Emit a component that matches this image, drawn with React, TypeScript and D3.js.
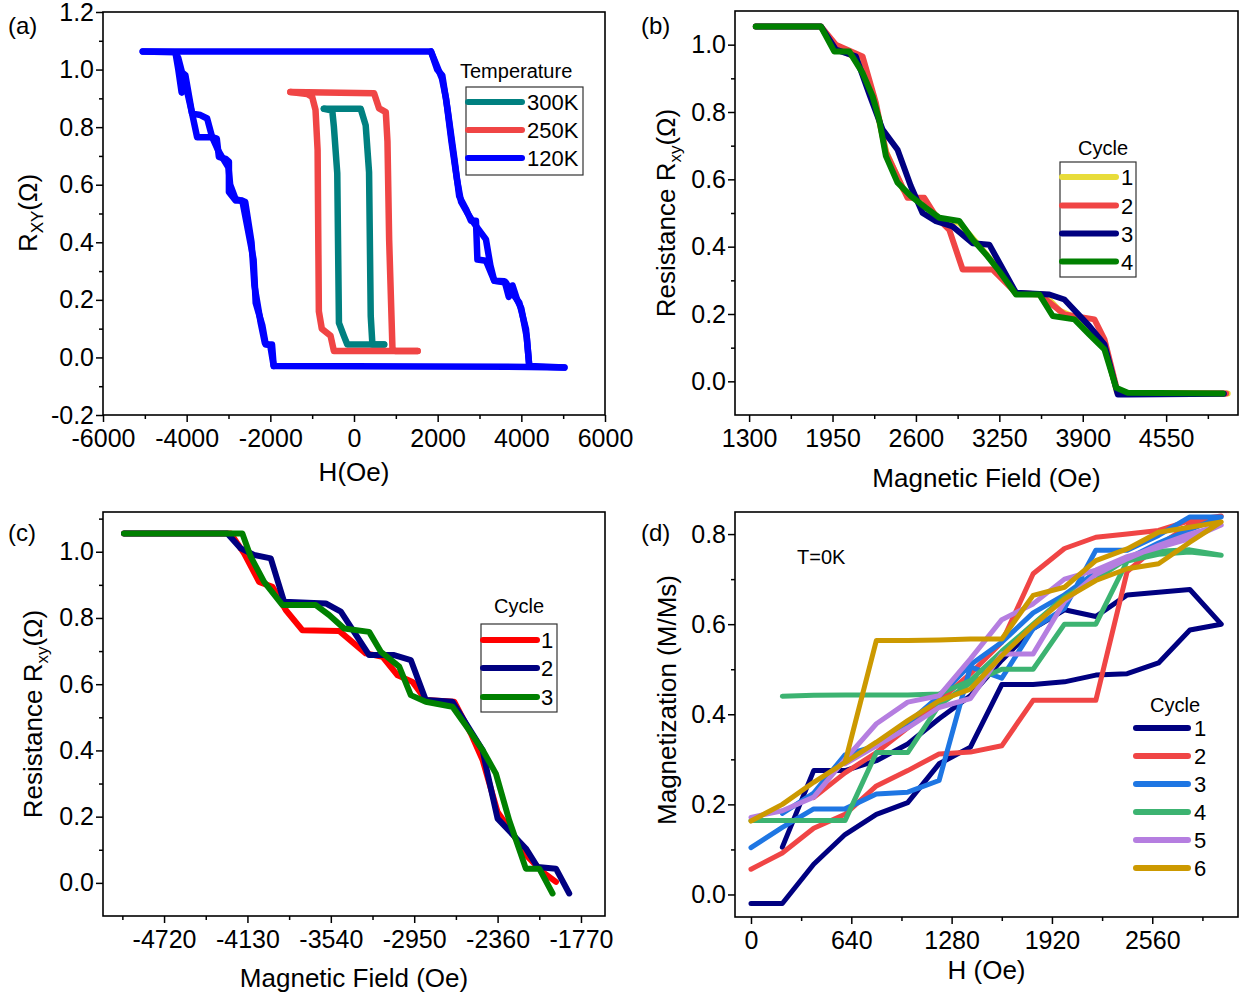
import React, { useEffect, useRef } from 'react';
import * as d3 from 'd3';

type Pt = [number, number];

// ---------- data: (a) R_XY vs H at three temperatures ----------
const temperatures = ['300K', '250K', '120K'];

const r300Desc: Pt[] = [[720, 0.045], [440, 0.045], [-160, 0.045], [-240, 0.074], [-360, 0.12], [-400, 0.64], [-480, 0.8], [-520, 0.858], [-720, 0.864]];
const r300Asc: Pt[] = [[-720, 0.864], [160, 0.864], [280, 0.806], [360, 0.643], [400, 0.144], [440, 0.045], [720, 0.045]];

const r250Desc: Pt[] = [[1520, 0.022], [1000, 0.022], [-480, 0.022], [-560, 0.075], [-770, 0.1], [-840, 0.16], [-870, 0.72], [-920, 0.86], [-1000, 0.905], [-1120, 0.915], [-1520, 0.922]];
const r250Asc: Pt[] = [[-1520, 0.922], [480, 0.918], [600, 0.865], [760, 0.852], [800, 0.75], [840, 0.41], [920, 0.028], [1000, 0.022], [1520, 0.022]];

const r120Desc: Pt[] = [[5030, -0.035], [4200, -0.033], [-1920, -0.03], [-1960, 0.045], [-2110, 0.045], [-2190, 0.11], [-2350, 0.19], [-2400, 0.34], [-2670, 0.545], [-2830, 0.545], [-2990, 0.575], [-2990, 0.68], [-3070, 0.69], [-3230, 0.697], [-3280, 0.76], [-3390, 0.765], [-3750, 0.765], [-3870, 0.847], [-4030, 0.98], [-4110, 0.99], [-4200, 1.04], [-4270, 1.06], [-5050, 1.063]];
const r120Desc2: Pt[] = [[-1920, -0.03], [-2000, 0.04], [-2130, 0.05], [-2230, 0.12], [-2380, 0.25], [-2450, 0.4], [-2600, 0.54], [-2830, 0.55], [-2960, 0.6], [-3000, 0.66], [-3150, 0.695], [-3250, 0.72], [-3390, 0.765], [-3510, 0.83], [-3670, 0.842], [-3870, 0.847], [-4060, 0.97], [-4120, 0.92], [-4200, 1.0], [-4270, 1.06]];
const r120Asc: Pt[] = [[-5050, 1.063], [-4270, 1.063], [1840, 1.063], [1990, 1.0], [2110, 0.98], [2235, 0.864], [2400, 0.69], [2515, 0.56], [2675, 0.516], [2795, 0.475], [2915, 0.475], [2950, 0.34], [3154, 0.336], [3353, 0.266], [3633, 0.26], [3753, 0.23], [3952, 0.19], [4112, 0.098], [4190, -0.03], [5030, -0.035]];
const r120Asc2: Pt[] = [[1840, 1.063], [1960, 1.02], [2100, 0.97], [2200, 0.9], [2330, 0.75], [2460, 0.62], [2560, 0.54], [2720, 0.5], [2850, 0.47], [2950, 0.45], [3154, 0.41], [3260, 0.32], [3353, 0.266], [3600, 0.265], [3700, 0.21], [3790, 0.25], [3900, 0.2], [4000, 0.17], [4130, 0.07], [4190, -0.03]];

const fieldTicksA = [-6000, -4000, -2000, 0, 2000, 4000, 6000];
const rxyTicksA = [-0.2, 0, 0.2, 0.4, 0.6, 0.8, 1.0, 1.2];

// ---------- data: (b) positive field sweeps, 4 cycles ----------
const cyclesB = ['1', '2', '3', '4'];
const cycle1B: Pt[] = [[1352, 1.054], [1859, 1.054], [1970, 0.99], [2150, 0.96], [2290, 0.81], [2370, 0.68], [2500, 0.57], [2650, 0.53], [2780, 0.485], [2940, 0.47], [3100, 0.4], [3250, 0.33], [3380, 0.26], [3600, 0.258], [3720, 0.21], [3900, 0.18], [4069, 0.11], [4165, -0.03], [4251, -0.036], [5030, -0.036]];
const cycle2B: Pt[] = [[1352, 1.054], [1859, 1.054], [1976, 1.0], [2184, 0.965], [2288, 0.827], [2366, 0.68], [2535, 0.545], [2665, 0.545], [2756, 0.49], [2860, 0.45], [2964, 0.332], [3198, 0.332], [3380, 0.263], [3562, 0.258], [3757, 0.199], [3991, 0.184], [4069, 0.125], [4173, -0.034], [4251, -0.035], [5018, -0.036]];
const cycle3B: Pt[] = [[1352, 1.054], [1859, 1.054], [1976, 0.985], [2132, 0.965], [2240, 0.85], [2340, 0.748], [2457, 0.688], [2560, 0.58], [2652, 0.5], [2756, 0.476], [2886, 0.46], [3042, 0.41], [3172, 0.406], [3380, 0.263], [3640, 0.258], [3757, 0.243], [3952, 0.164], [4069, 0.11], [4173, -0.039], [4251, -0.039], [5000, -0.037]];
const cycle4B: Pt[] = [[1352, 1.054], [1859, 1.054], [1963, 0.98], [2080, 0.98], [2184, 0.916], [2262, 0.847], [2314, 0.777], [2366, 0.669], [2457, 0.59], [2561, 0.55], [2678, 0.515], [2782, 0.486], [2938, 0.476], [3042, 0.421], [3146, 0.377], [3250, 0.327], [3380, 0.258], [3562, 0.258], [3666, 0.194], [3835, 0.184], [3952, 0.139], [4069, 0.095], [4160, -0.019], [4251, -0.034], [4992, -0.036]];

const fieldTicksB = [1300, 1950, 2600, 3250, 3900, 4550];
const rxyTicksB = [0, 0.2, 0.4, 0.6, 0.8, 1.0];

// ---------- data: (c) negative field sweeps, 3 cycles ----------
const cyclesC = ['1', '2', '3'];
const cycle1C: Pt[] = [[-5003, 1.055], [-4248, 1.055], [-4154, 0.995], [-4048, 0.909], [-3953, 0.894], [-3859, 0.824], [-3741, 0.763], [-3481, 0.761], [-3293, 0.693], [-3175, 0.683], [-3068, 0.627], [-2962, 0.607], [-2868, 0.552], [-2667, 0.547], [-2549, 0.451], [-2466, 0.371], [-2360, 0.214], [-2254, 0.149], [-2148, 0.079], [-2042, 0.033], [-1947, 0.003]];
const cycle2C: Pt[] = [[-5003, 1.055], [-4272, 1.055], [-4177, 1.01], [-4083, 0.99], [-3965, 0.98], [-3871, 0.849], [-3576, 0.844], [-3469, 0.819], [-3269, 0.688], [-3092, 0.688], [-2974, 0.673], [-2868, 0.552], [-2679, 0.547], [-2466, 0.401], [-2431, 0.33], [-2360, 0.194], [-2160, 0.104], [-2077, 0.048], [-1947, 0.043], [-1853, -0.032]];
const cycle3C: Pt[] = [[-5003, 1.055], [-4166, 1.055], [-4107, 0.985], [-4012, 0.909], [-3882, 0.839], [-3646, 0.839], [-3552, 0.809], [-3446, 0.768], [-3269, 0.758], [-3186, 0.698], [-3056, 0.653], [-2974, 0.567], [-2868, 0.547], [-2679, 0.532], [-2561, 0.461], [-2466, 0.401], [-2372, 0.33], [-2278, 0.189], [-2160, 0.043], [-2065, 0.043], [-1971, -0.032]];

const fieldTicksC = [-4720, -4130, -3540, -2950, -2360, -1770];
const rxyTicksC = [0, 0.2, 0.4, 0.6, 0.8, 1.0];

// ---------- data: (d) simulated M/Ms at T=0K, 6 cycles ----------
const cyclesD = ['1', '2', '3', '4', '5', '6'];
const cycle1D: Pt[] = [[200, 0.105], [400, 0.275], [600, 0.275], [800, 0.297], [1000, 0.334], [1200, 0.39], [1400, 0.441], [1600, 0.52], [1800, 0.59], [2000, 0.632], [2200, 0.617], [2400, 0.665], [2600, 0.671], [2800, 0.677], [3000, 0.6], [2800, 0.587], [2600, 0.514], [2400, 0.49], [2200, 0.487], [2000, 0.472], [1800, 0.466], [1600, 0.466], [1400, 0.327], [1200, 0.29], [1000, 0.204], [800, 0.178], [600, 0.133], [400, 0.067], [200, -0.02], [0, -0.02]];
const cycle2D: Pt[] = [[0, 0.056], [200, 0.092], [400, 0.147], [600, 0.178], [800, 0.241], [1000, 0.275], [1200, 0.312], [1400, 0.316], [1600, 0.33], [1800, 0.431], [2000, 0.431], [2200, 0.431], [2400, 0.717], [2600, 0.775], [2800, 0.82], [3000, 0.84], [2800, 0.83], [2600, 0.808], [2400, 0.8], [2200, 0.793], [2000, 0.768], [1800, 0.712], [1600, 0.56], [1400, 0.49], [1200, 0.43], [1000, 0.37], [800, 0.315], [600, 0.27], [400, 0.215]];
const cycle3D: Pt[] = [[0, 0.104], [200, 0.149], [400, 0.19], [600, 0.19], [800, 0.223], [1000, 0.227], [1200, 0.253], [1400, 0.505], [1600, 0.48], [1800, 0.59], [2000, 0.635], [2200, 0.764], [2400, 0.764], [2600, 0.797], [2800, 0.838], [3000, 0.838], [2800, 0.81], [2600, 0.78], [2400, 0.745], [2200, 0.715], [2000, 0.665], [1800, 0.625], [1600, 0.56], [1400, 0.51], [1200, 0.44], [1000, 0.38], [800, 0.33], [600, 0.31], [400, 0.225], [200, 0.18]];
const cycle4D: Pt[] = [[0, 0.164], [200, 0.164], [400, 0.164], [600, 0.164], [800, 0.315], [1000, 0.315], [1200, 0.42], [1400, 0.47], [1600, 0.5], [1800, 0.5], [2000, 0.6], [2200, 0.6], [2400, 0.74], [2600, 0.755], [2800, 0.76], [3000, 0.753], [2800, 0.765], [2600, 0.762], [2400, 0.745], [2200, 0.7], [2000, 0.66], [1800, 0.6], [1600, 0.54], [1400, 0.475], [1200, 0.445], [1000, 0.443], [800, 0.443], [600, 0.443], [400, 0.442], [200, 0.44]];
const cycle5D: Pt[] = [[0, 0.171], [200, 0.186], [400, 0.216], [600, 0.3], [800, 0.379], [1000, 0.427], [1200, 0.441], [1400, 0.523], [1600, 0.61], [1800, 0.645], [2000, 0.7], [2200, 0.72], [2400, 0.75], [2600, 0.77], [2800, 0.79], [3000, 0.82], [2800, 0.8], [2600, 0.775], [2400, 0.745], [2200, 0.71], [2000, 0.65], [1800, 0.534], [1600, 0.534], [1400, 0.435], [1200, 0.415], [1000, 0.37], [800, 0.33], [600, 0.29]];
const cycle6D: Pt[] = [[0, 0.163], [200, 0.2], [400, 0.249], [600, 0.293], [800, 0.564], [1000, 0.564], [1200, 0.565], [1400, 0.567], [1600, 0.567], [1800, 0.664], [2000, 0.682], [2200, 0.741], [2400, 0.767], [2600, 0.804], [2800, 0.815], [3000, 0.827], [2800, 0.782], [2600, 0.734], [2400, 0.723], [2200, 0.697], [2000, 0.656], [1800, 0.597], [1600, 0.53], [1400, 0.456], [1200, 0.43], [1000, 0.386], [800, 0.338], [600, 0.293]];

const fieldTicksD = [0, 640, 1280, 1920, 2560];
const magTicksD = [0, 0.2, 0.4, 0.6, 0.8];

// ---------- layout / styling ----------
const FONT = '"Liberation Sans", Arial, Helvetica, sans-serif';

interface Series { label: string; color: string; lines: Pt[][] }
interface Legend { title: string; titleX: number; titleY: number; box?: [number, number, number, number]; rows: number[]; lineX: [number, number]; textX: number }
interface Panel {
  tag: string; tagX: number; tagY: number;
  box: { l: number; r: number; t: number; b: number };
  xDomain: [number, number]; yDomain: [number, number];
  xTicks: number[]; xMinor: number; yTicks: number[]; yMinor: number;
  xTitle: string; xTitleY: number;
  yTitle: [string, string, string]; yTitleX: number; yTitleY: number;
  series: Series[]; lineWidth: number; legend: Legend;
}

const panels: Panel[] = [
  {
    tag: '(a)', tagX: 8, tagY: 34,
    box: { l: 103, r: 605, t: 12, b: 415 },
    xDomain: [-6000, 6000], yDomain: [-0.2, 1.2],
    xTicks: fieldTicksA, xMinor: 1000, yTicks: rxyTicksA, yMinor: 0.1,
    xTitle: 'H(Oe)', xTitleY: 481,
    yTitle: ['R', 'XY', '(Ω)'], yTitleX: 37, yTitleY: 213,
    lineWidth: 6.5,
    series: [
      { label: temperatures[0], color: '#008080', lines: [r300Desc, r300Asc] },
      { label: temperatures[1], color: '#f04545', lines: [r250Desc, r250Asc] },
      { label: temperatures[2], color: '#0000ff', lines: [r120Desc, r120Desc2, r120Asc, r120Asc2] },
    ],
    legend: { title: 'Temperature', titleX: 460, titleY: 78, box: [466, 87, 117, 88], rows: [102, 130, 158], lineX: [468, 522], textX: 527 },
  },
  {
    tag: '(b)', tagX: 641, tagY: 34,
    box: { l: 735, r: 1238, t: 11, b: 415 },
    xDomain: [1190, 5110], yDomain: [-0.1, 1.1],
    xTicks: fieldTicksB, xMinor: 325, yTicks: rxyTicksB, yMinor: 0.1,
    xTitle: 'Magnetic Field (Oe)', xTitleY: 487,
    yTitle: ['Resistance R', 'xy', '(Ω)'], yTitleX: 675, yTitleY: 213,
    lineWidth: 6,
    series: [
      { label: cyclesB[0], color: '#e8dc3a', lines: [cycle1B] },
      { label: cyclesB[1], color: '#f04545', lines: [cycle2B] },
      { label: cyclesB[2], color: '#000080', lines: [cycle3B] },
      { label: cyclesB[3], color: '#008000', lines: [cycle4B] },
    ],
    legend: { title: 'Cycle', titleX: 1078, titleY: 155, box: [1060, 162, 76, 115], rows: [177, 205.5, 233.5, 261.5], lineX: [1062, 1116], textX: 1121 },
  },
  {
    tag: '(c)', tagX: 8, tagY: 541,
    box: { l: 103, r: 605, t: 512, b: 916 },
    xDomain: [-5152, -1600], yDomain: [-0.1, 1.12],
    xTicks: fieldTicksC, xMinor: 295, yTicks: rxyTicksC, yMinor: 0.1,
    xTitle: 'Magnetic Field (Oe)', xTitleY: 987,
    yTitle: ['Resistance R', 'xy', '(Ω)'], yTitleX: 42, yTitleY: 714,
    lineWidth: 6,
    series: [
      { label: cyclesC[0], color: '#ff0000', lines: [cycle1C] },
      { label: cyclesC[1], color: '#000080', lines: [cycle2C] },
      { label: cyclesC[2], color: '#008000', lines: [cycle3C] },
    ],
    legend: { title: 'Cycle', titleX: 494, titleY: 613, box: [481, 624, 76, 88], rows: [640, 668, 697], lineX: [483, 537], textX: 541 },
  },
  {
    tag: '(d)', tagX: 641, tagY: 541,
    box: { l: 735, r: 1238, t: 512, b: 917 },
    xDomain: [-102, 3107], yDomain: [-0.05, 0.849],
    xTicks: fieldTicksD, xMinor: 320, yTicks: magTicksD, yMinor: 0.1,
    xTitle: 'H (Oe)', xTitleY: 979,
    yTitle: ['Magnetization (M/Ms)', '', ''], yTitleX: 676, yTitleY: 700,
    lineWidth: 5,
    series: [
      { label: cyclesD[0], color: '#000080', lines: [cycle1D] },
      { label: cyclesD[1], color: '#f04545', lines: [cycle2D] },
      { label: cyclesD[2], color: '#1e76e3', lines: [cycle3D] },
      { label: cyclesD[3], color: '#3cb371', lines: [cycle4D] },
      { label: cyclesD[4], color: '#b57ee0', lines: [cycle5D] },
      { label: cyclesD[5], color: '#cc9900', lines: [cycle6D] },
    ],
    legend: { title: 'Cycle', titleX: 1150, titleY: 712, rows: [728, 756, 784, 812, 840, 868], lineX: [1136, 1188], textX: 1194 },
  },
];

function minorTicks(domain: [number, number], step: number, majors: number[]) {
  const lo = Math.min(...domain);
  const hi = Math.max(...domain);
  const out: number[] = [];
  for (let k = Math.ceil(lo / step - 1e-6); k <= Math.floor(hi / step + 1e-6); k++) {
    const v = k * step;
    if (majors.some((m) => Math.abs(m - v) < step * 0.01)) continue;
    if (Math.abs(v - lo) < step * 0.05 || Math.abs(v - hi) < step * 0.05) continue;
    out.push(v);
  }
  return out;
}

function drawPanel(svg: d3.Selection<SVGSVGElement, unknown, null, undefined>, p: Panel) {
  const { box } = p;
  const x = d3.scaleLinear().domain(p.xDomain).range([box.l, box.r]);
  const y = d3.scaleLinear().domain(p.yDomain).range([box.b, box.t]);
  const g = svg.append('g').attr('font-family', FONT);

  // data lines
  const line = d3.line<Pt>().x((d) => x(d[0])).y((d) => y(d[1]));
  p.series.forEach((s) => {
    s.lines.forEach((pts) => {
      g.append('path')
        .attr('d', line(pts))
        .attr('fill', 'none')
        .attr('stroke', s.color)
        .attr('stroke-width', p.lineWidth)
        .attr('stroke-linejoin', 'round')
        .attr('stroke-linecap', 'round');
    });
  });

  // frame
  g.append('rect')
    .attr('x', box.l).attr('y', box.t)
    .attr('width', box.r - box.l).attr('height', box.b - box.t)
    .attr('fill', 'none').attr('stroke', '#000').attr('stroke-width', 1.6);

  // axes
  const xAxis = g.append('g').attr('transform', `translate(0,${box.b})`)
    .call(d3.axisBottom(x).tickValues(p.xTicks).tickSize(7).tickPadding(7).tickFormat((d) => String(d)));
  const xMinorAxis = g.append('g').attr('transform', `translate(0,${box.b})`)
    .call(d3.axisBottom(x).tickValues(minorTicks(p.xDomain, p.xMinor, p.xTicks)).tickSize(4).tickFormat(() => ''));
  const yAxis = g.append('g').attr('transform', `translate(${box.l},0)`)
    .call(d3.axisLeft(y).tickValues(p.yTicks).tickSize(7).tickPadding(2).tickFormat((d) => (+d).toFixed(1)));
  const yMinorAxis = g.append('g').attr('transform', `translate(${box.l},0)`)
    .call(d3.axisLeft(y).tickValues(minorTicks(p.yDomain, p.yMinor, p.yTicks)).tickSize(4).tickFormat(() => ''));
  [xAxis, xMinorAxis, yAxis, yMinorAxis].forEach((a) => {
    a.select('.domain').remove();
    a.selectAll('line').attr('stroke', '#000').attr('stroke-width', 1.5);
    a.selectAll('text').attr('font-family', FONT).attr('font-size', 25).attr('fill', '#000');
  });

  // titles
  g.append('text')
    .attr('x', (box.l + box.r) / 2).attr('y', p.xTitleY)
    .attr('text-anchor', 'middle').attr('font-size', 26)
    .text(p.xTitle);
  const yt = g.append('text')
    .attr('transform', `translate(${p.yTitleX},${p.yTitleY}) rotate(-90)`)
    .attr('text-anchor', 'middle').attr('font-size', 26);
  yt.append('tspan').text(p.yTitle[0]);
  if (p.yTitle[1]) {
    yt.append('tspan').attr('font-size', 17).attr('dy', 6).text(p.yTitle[1]);
    yt.append('tspan').attr('dy', -6).text(p.yTitle[2]);
  }
  g.append('text').attr('x', p.tagX).attr('y', p.tagY).attr('font-size', 24).text(p.tag);

  // legend
  const L = p.legend;
  g.append('text').attr('x', L.titleX).attr('y', L.titleY).attr('font-size', 20).text(L.title);
  if (L.box) {
    g.append('rect')
      .attr('x', L.box[0]).attr('y', L.box[1]).attr('width', L.box[2]).attr('height', L.box[3])
      .attr('fill', '#fff').attr('stroke', '#333').attr('stroke-width', 1.2);
  }
  p.series.forEach((s, i) => {
    const ry = L.rows[i];
    g.append('line')
      .attr('x1', L.lineX[0]).attr('x2', L.lineX[1]).attr('y1', ry).attr('y2', ry)
      .attr('stroke', s.color).attr('stroke-width', 6).attr('stroke-linecap', 'round');
    g.append('text').attr('x', L.textX).attr('y', ry + 8).attr('font-size', 22).text(s.label);
  });
}

export default function App() {
  const ref = useRef<SVGSVGElement>(null);
  useEffect(() => {
    if (!ref.current) return;
    const svg = d3.select(ref.current);
    svg.selectAll('*').remove();
    panels.forEach((p) => drawPanel(svg, p));
    svg.append('text')
      .attr('x', 797).attr('y', 564)
      .attr('font-family', FONT).attr('font-size', 20)
      .text('T=0K');
  }, []);
  return (
    <svg
      ref={ref}
      width={1243}
      height={999}
      style={{ position: 'absolute', left: 0, top: 0, background: '#fff' }}
    />
  );
}
